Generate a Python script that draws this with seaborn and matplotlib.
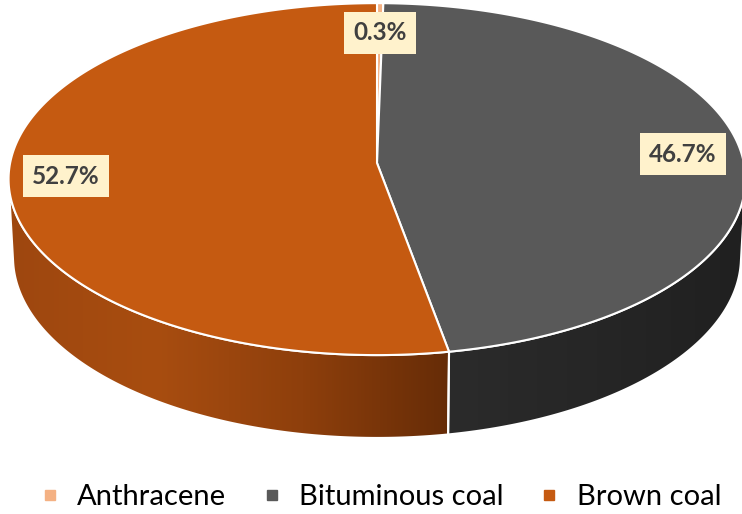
import numpy as np
import matplotlib
matplotlib.use("Agg")
import matplotlib.pyplot as plt
import seaborn as sns
from matplotlib.patches import Polygon
from matplotlib.lines import Line2D
from matplotlib.colors import LinearSegmentedColormap

categories = ["Anthracene", "Bituminous coal", "Brown coal"]
values = [0.3, 46.7, 52.7]
labels = ["0.3%", "46.7%", "52.7%"]

sns.set_theme(style="white")
plt.rcParams['font.family'] = ['Lato', 'DejaVu Sans']

top_colors = sns.color_palette(["#F4B183", "#595959", "#C55A11"])
side_grads = [["#E09A6A", "#C07A50"],
              ["#2B2B2B", "#262626", "#202020"],
              ["#9E470F", "#A84D10", "#8E3F0C", "#662C07"]]

fig = plt.figure(figsize=(7.42, 5.14), dpi=100)
ax = fig.add_axes([0, 0, 1, 1])
ax.set_xlim(0, 742)
ax.set_ylim(514, 0)
ax.axis('off')

# perspective camera
cx, cy = 377, 163          # projected pie centre (pixels)
elev = np.radians(28.4)
D = 9.6
f = 3522.0
h = 0.2435
ce, se = np.cos(elev), np.sin(elev)


def proj(theta_deg, z):
    t = np.radians(np.asarray(theta_deg))
    X, Y = np.sin(t), np.cos(t)
    up = Y * se + z * ce
    depth = D + Y * ce - z * se
    return np.column_stack([cx + f * X / depth, cy - f * up / depth])


def arc(a, b, z, n=240):
    return proj(np.linspace(a, b, n), z)


fr = np.array(values) / sum(values)
bounds = np.concatenate([[0], np.cumsum(fr)]) * 360
sil = np.degrees(np.arccos(-1.0 / (D * ce)))
sil_lo, sil_hi = sil, 360 - sil

# sides (visible front part)
for i in range(len(values)):
    a, b = max(bounds[i], sil_lo), min(bounds[i + 1], sil_hi)
    if b <= a:
        continue
    poly = np.vstack([arc(a, b, 0.0), arc(b, a, -h)])
    patch = Polygon(poly, closed=True, fc='none', ec='white', lw=1.5, zorder=2)
    ax.add_patch(patch)
    cmap = LinearSegmentedColormap.from_list("g%d" % i, side_grads[i])
    grad = np.linspace(0, 1, 256).reshape(1, -1)
    im = ax.imshow(grad, cmap=cmap, aspect='auto',
                   extent=[poly[:, 0].min(), poly[:, 0].max(),
                           poly[:, 1].max(), poly[:, 1].min()],
                   zorder=1, interpolation='bilinear')
    im.set_clip_path(patch)
ax.set_xlim(0, 742)
ax.set_ylim(514, 0)

# top wedges
for i in range(len(values)):
    poly = np.vstack([[cx, cy], arc(bounds[i], bounds[i + 1], 0.0)])
    ax.add_patch(Polygon(poly, closed=True, fc=top_colors[i], ec='white',
                         lw=1.5, zorder=3, joinstyle='round'))

# labels
label_pos = [(380, 33), (683, 154), (66, 176)]
for (x, y), txt in zip(label_pos, labels):
    ax.text(x, y, txt, ha='center', va='center', fontsize=17.5, fontweight='bold',
            color='#404040', zorder=5,
            bbox=dict(boxstyle='square,pad=0.38', fc='#FFF2CC', ec='none'))

handles = [Line2D([], [], marker='s', ls='none', markersize=7.5,
                  markerfacecolor=c, markeredgecolor=c) for c in top_colors]
fig.legend(handles, categories, loc='center', bbox_to_anchor=(0.5135, 1 - 497 / 514),
           ncol=3, frameon=False, fontsize=21, handlelength=0.6,
           handletextpad=0.65, columnspacing=1.25, labelcolor='#000000',
           borderpad=0, borderaxespad=0)

fig.savefig("out.png", dpi=100)
